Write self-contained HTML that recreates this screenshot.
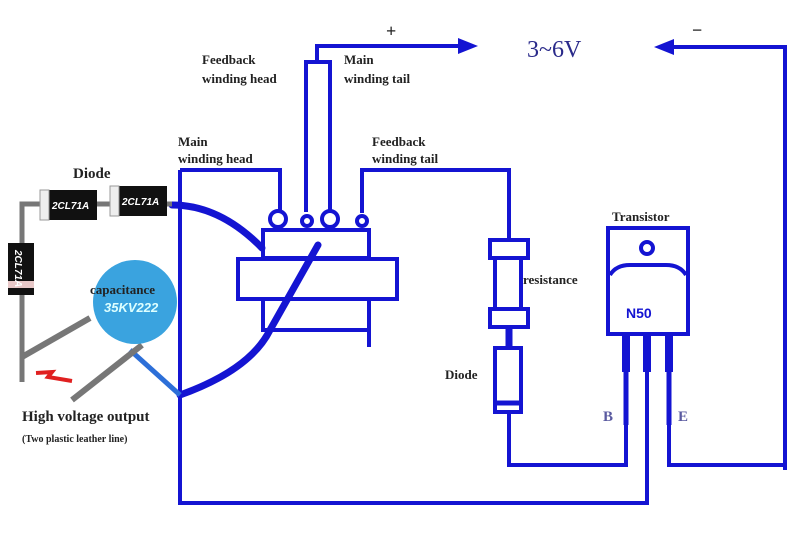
<!DOCTYPE html>
<html><head><meta charset="utf-8"><style>
html,body{margin:0;padding:0;background:#fff;}
svg{display:block;}
text{font-family:"Liberation Serif",serif;font-weight:bold;fill:#222;}
</style></head><body>
<svg width="800" height="533" viewBox="0 0 800 533" xmlns="http://www.w3.org/2000/svg">
<rect width="800" height="533" fill="#fff"/>
<g fill="none" stroke="#1414d2" stroke-width="4" stroke-linejoin="miter">
<!-- left big loop -->
<polyline points="180,170 180,503 647,503 647,335"/>
<polyline points="180,170 280,170 280,210"/>
<!-- top feed -->
<polyline points="306,212 306,62 330,62 330,212"/>
<polyline points="317,62 317,46 462,46"/>
<polyline points="785,470 785,47 668,47"/>
<!-- feedback tail -->
<polyline points="362,213 362,170 509,170 509,240"/>
<!-- circles -->
<circle cx="278" cy="219" r="8"/>
<circle cx="307" cy="221" r="5"/>
<circle cx="330" cy="219" r="8"/>
<circle cx="362" cy="221" r="5"/>
<!-- transformer -->
<rect x="263" y="230" width="106" height="28"/>
<rect x="238" y="259" width="159" height="40"/>
<polyline points="263,299 263,330 369,330"/>
<line x1="369" y1="299" x2="369" y2="347"/>
<!-- resistor & diode -->
<rect x="490" y="240" width="38" height="18"/>
<rect x="495" y="258" width="26" height="51"/>
<rect x="490" y="309" width="38" height="18"/>
<line x1="509" y1="327" x2="509" y2="348" stroke-width="7"/>
<rect x="495" y="348" width="26" height="64"/>
<line x1="497" y1="403" x2="519" y2="403" stroke-width="5"/>
<polyline points="509,412 509,465 626,465 626,370"/>
<polyline points="669,370 669,465 785,465"/>
<!-- transistor -->
<rect x="608" y="228" width="80" height="106"/>
<circle cx="647" cy="248" r="6"/>
<path d="M610,275 Q616,265 630,265 L666,265 Q680,265 686,275"/>
<line x1="647" y1="335" x2="647" y2="503"/>
</g>
<g stroke="#1414d2" stroke-width="8">
<line x1="626" y1="334" x2="626" y2="372"/>
<line x1="647" y1="334" x2="647" y2="372"/>
<line x1="669" y1="334" x2="669" y2="372"/>
</g>
<line x1="626" y1="370" x2="626" y2="425" stroke="#1414d2" stroke-width="5"/>
<line x1="669" y1="370" x2="669" y2="425" stroke="#1414d2" stroke-width="5"/>
<!-- arrows -->
<polygon points="458,38 478,46 458,54" fill="#1414d2"/>
<polygon points="674,39 654,47 674,55" fill="#1414d2"/>
<!-- thick curves -->
<path d="M172,205 Q220,205 262,248" fill="none" stroke="#1414d2" stroke-width="7" stroke-linecap="round"/>
<path d="M180,395 Q250,370 270,330 L318,245" fill="none" stroke="#1414d2" stroke-width="7" stroke-linecap="round"/>
<line x1="130" y1="350" x2="180" y2="395" stroke="#2d6fd8" stroke-width="5"/>
<!-- gray wires -->
<polyline points="172,204 22,204 22,382" fill="none" stroke="#777" stroke-width="5"/>
<line x1="22" y1="357" x2="90" y2="318" stroke="#777" stroke-width="6"/>
<line x1="72" y1="400" x2="142" y2="345" stroke="#777" stroke-width="6"/>
<path d="M36,373 L52,372 L48,377 L72,381" fill="none" stroke="#e02020" stroke-width="4"/>
<!-- diodes -->
<rect x="40" y="190" width="57" height="30" fill="#111"/>
<rect x="40" y="190" width="9" height="30" fill="#eee" stroke="#999"/>
<text x="52" y="209" font-size="10" fill="#fff" style="fill:#fff;font-family:'Liberation Sans';font-style:italic">2CL71A</text>
<rect x="110" y="186" width="57" height="30" fill="#111"/>
<rect x="110" y="186" width="9" height="30" fill="#eee" stroke="#999"/>
<text x="122" y="205" font-size="10" style="fill:#fff;font-family:'Liberation Sans';font-style:italic">2CL71A</text>
<rect x="8" y="243" width="26" height="52" fill="#111"/>
<rect x="8" y="281" width="26" height="7" fill="#e8c8c8"/>
<text transform="translate(15,250) rotate(90)" font-size="10" style="fill:#fff;font-family:'Liberation Sans';font-style:italic">2CL71A</text>
<!-- capacitor -->
<circle cx="135" cy="302" r="42" fill="#3aa3df"/>
<text x="90" y="294" font-size="13">capacitance</text>
<text x="104" y="312" font-size="13" style="fill:#dff;font-family:'Liberation Sans';font-style:italic;font-weight:bold">35KV222</text>
<!-- labels -->
<text x="73" y="178" font-size="15">Diode</text>
<text x="178" y="146" font-size="13">Main</text>
<text x="178" y="163" font-size="13">winding head</text>
<text x="202" y="64" font-size="13">Feedback</text>
<text x="202" y="83" font-size="13">winding head</text>
<text x="344" y="64" font-size="13">Main</text>
<text x="344" y="83" font-size="13">winding tail</text>
<text x="372" y="146" font-size="13">Feedback</text>
<text x="372" y="163" font-size="13">winding tail</text>
<text x="386" y="37" font-size="18">+</text>
<text x="692" y="36" font-size="18">−</text>
<text x="527" y="57" font-size="24" style="fill:#2a2a8a;font-weight:normal">3~6V</text>
<text x="612" y="221" font-size="13">Transistor</text>
<text x="626" y="318" font-size="14" style="fill:#1414d2;font-family:'Liberation Sans'">N50</text>
<text x="523" y="284" font-size="13">resistance</text>
<text x="445" y="379" font-size="13">Diode</text>
<text x="603" y="421" font-size="15" style="fill:#5a5aa0">B</text>
<text x="678" y="421" font-size="15" style="fill:#5a5aa0">E</text>
<text x="22" y="421" font-size="15">High voltage output</text>
<text x="22" y="442" font-size="10">(Two plastic leather line)</text>
</svg>
</body></html>
